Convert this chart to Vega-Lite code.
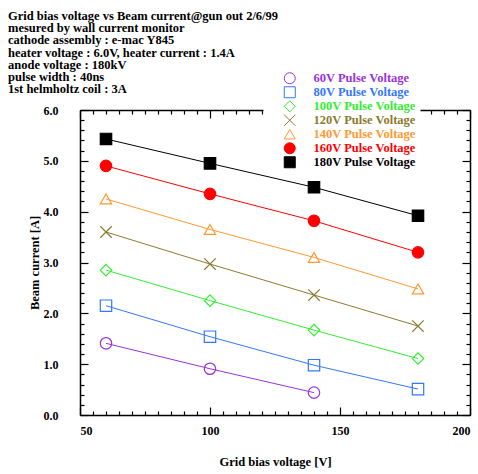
{
  "$schema": "https://vega.github.io/schema/vega-lite/v6.json",
  "autosize": "none",
  "width": 390,
  "height": 305,
  "padding": {"left": 80, "top": 110, "right": 8, "bottom": 59},
  "background": "white",
  "title": {
    "text": ["Grid bias voltage vs Beam current@gun out 2/6/99", "mesured by wall current monitor", "cathode assembly : e-mac Y845", "heater voltage : 6.0V, heater current : 1.4A", "anode voltage : 180kV", "pulse width : 40ns", "1st helmholtz coil : 3A"],
    "anchor": "start",
    "frame": "group",
    "dx": -72,
    "dy": 38,
    "font": "Liberation Serif",
    "fontSize": 12.5,
    "fontWeight": "bold",
    "lineHeight": 12.3,
    "color": "black",
    "offset": 10
  },
  "config": {
    "view": {"stroke": null},
    "axis": {
      "domainColor": "black",
      "domainWidth": 1.5,
      "tickColor": "black",
      "tickWidth": 1.2,
      "labelFont": "Liberation Serif",
      "labelFontWeight": "bold",
      "labelFontSize": 12,
      "labelColor": "black",
      "titleFont": "Liberation Serif",
      "titleFontWeight": "bold",
      "titleFontSize": 12.5,
      "titleColor": "black",
      "grid": false
    }
  },
  "data": {
    "values": [
      {"series": "60V Pulse Voltage", "grid": 60, "current": 1.41},
      {"series": "60V Pulse Voltage", "grid": 100, "current": 0.91},
      {"series": "60V Pulse Voltage", "grid": 140, "current": 0.44},
      {"series": "80V Pulse Voltage", "grid": 60, "current": 2.15},
      {"series": "80V Pulse Voltage", "grid": 100, "current": 1.54},
      {"series": "80V Pulse Voltage", "grid": 140, "current": 0.98},
      {"series": "80V Pulse Voltage", "grid": 180, "current": 0.51},
      {"series": "100V Pulse Voltage", "grid": 60, "current": 2.85},
      {"series": "100V Pulse Voltage", "grid": 100, "current": 2.25},
      {"series": "100V Pulse Voltage", "grid": 140, "current": 1.67},
      {"series": "100V Pulse Voltage", "grid": 180, "current": 1.11},
      {"series": "120V Pulse Voltage", "grid": 60, "current": 3.6},
      {"series": "120V Pulse Voltage", "grid": 100, "current": 2.97},
      {"series": "120V Pulse Voltage", "grid": 140, "current": 2.36},
      {"series": "120V Pulse Voltage", "grid": 180, "current": 1.75},
      {"series": "140V Pulse Voltage", "grid": 60, "current": 4.25},
      {"series": "140V Pulse Voltage", "grid": 100, "current": 3.65},
      {"series": "140V Pulse Voltage", "grid": 140, "current": 3.1},
      {"series": "140V Pulse Voltage", "grid": 180, "current": 2.48},
      {"series": "160V Pulse Voltage", "grid": 60, "current": 4.9},
      {"series": "160V Pulse Voltage", "grid": 100, "current": 4.35},
      {"series": "160V Pulse Voltage", "grid": 140, "current": 3.82},
      {"series": "160V Pulse Voltage", "grid": 180, "current": 3.2},
      {"series": "180V Pulse Voltage", "grid": 60, "current": 5.43},
      {"series": "180V Pulse Voltage", "grid": 100, "current": 4.95},
      {"series": "180V Pulse Voltage", "grid": 140, "current": 4.48},
      {"series": "180V Pulse Voltage", "grid": 180, "current": 3.92}
    ]
  },
  "resolve": {"scale": {"x": "independent", "y": "independent"}},
  "layer": [
    {
      "mark": {"type": "line", "strokeWidth": 1},
      "encoding": {
        "x": {"field": "grid", "type": "quantitative", "scale": {"domain": [50, 200], "nice": false, "zero": false},
          "axis": {"orient": "bottom", "values": [50, 100, 150, 200], "tickSize": -8, "labelPadding": 18, "title": "Grid bias voltage [V]", "titlePadding": 19}},
        "y": {"field": "current", "type": "quantitative", "scale": {"domain": [0, 6], "nice": false, "zero": false},
          "axis": {"orient": "left", "values": [0, 1, 2, 3, 4, 5, 6], "format": ".1f", "tickSize": -8, "labelPadding": 30, "title": "Beam current [A]", "titlePadding": 2}},
        "color": {"field": "series", "type": "nominal",
          "scale": {"domain": ["60V Pulse Voltage", "80V Pulse Voltage", "100V Pulse Voltage", "120V Pulse Voltage", "140V Pulse Voltage", "160V Pulse Voltage", "180V Pulse Voltage"],
            "range": ["#9933dd", "#3377ff", "#33ee33", "#8b7b30", "#ff9933", "#ff0000", "#000000"]},
          "legend": {
            "orient": "none", "legendX": 183.5, "legendY": -42, "title": null, "padding": 4, "fillColor": "white",
            "labelFont": "Liberation Serif", "labelFontWeight": "bold", "labelFontSize": 12.5,
            "symbolSize": 121, "symbolStrokeWidth": 1, "rowPadding": -2, "labelOffset": 17.5, "symbolOffset": 16,
            "encode": {
              "labels": {"update": {"fill": {"scale": "color", "field": "value"}}}
            }
          }
        }
      }
    },
    {
      "mark": {"type": "point", "filled": false, "size": 130, "strokeWidth": 1.2, "opacity": 1},
      "encoding": {
        "x": {"field": "grid", "type": "quantitative", "scale": {"domain": [50, 200], "nice": false, "zero": false},
          "axis": {"orient": "top", "values": [50, 100, 150, 200], "tickSize": -8, "labels": false, "title": null}},
        "y": {"field": "current", "type": "quantitative", "scale": {"domain": [0, 6], "nice": false, "zero": false},
          "axis": {"orient": "right", "values": [0, 1, 2, 3, 4, 5, 6], "tickSize": -8, "labels": false, "title": null}},
        "color": {"field": "series", "type": "nominal",
          "legend": {
            "orient": "none", "legendX": 183.5, "legendY": -42, "title": null, "padding": 4, "fillColor": "white",
            "labelFont": "Liberation Serif", "labelFontWeight": "bold", "labelFontSize": 12.5,
            "symbolSize": 121, "symbolStrokeWidth": 1, "rowPadding": -2, "labelOffset": 17.5, "symbolOffset": 16,
            "encode": {
              "labels": {"update": {"fill": {"scale": "color", "field": "value"}}}
            }
          }},
        "shape": {"field": "series", "type": "nominal",
          "scale": {"domain": ["60V Pulse Voltage", "80V Pulse Voltage", "100V Pulse Voltage", "120V Pulse Voltage", "140V Pulse Voltage", "160V Pulse Voltage", "180V Pulse Voltage"],
            "range": ["circle", "square", "diamond", "M-1,-1L1,1M-1,1L1,-1", "triangle-up", "circle", "square"]},
          "legend": {
            "orient": "none", "legendX": 183.5, "legendY": -42, "title": null, "padding": 4, "fillColor": "white",
            "labelFont": "Liberation Serif", "labelFontWeight": "bold", "labelFontSize": 12.5,
            "symbolSize": 121, "symbolStrokeWidth": 1, "rowPadding": -2, "labelOffset": 17.5, "symbolOffset": 16,
            "encode": {
              "labels": {"update": {"fill": {"scale": "color", "field": "value"}}}
            }
          }},
        "fill": {"field": "series", "type": "nominal",
          "scale": {"domain": ["60V Pulse Voltage", "80V Pulse Voltage", "100V Pulse Voltage", "120V Pulse Voltage", "140V Pulse Voltage", "160V Pulse Voltage", "180V Pulse Voltage"],
            "range": ["transparent", "transparent", "transparent", "transparent", "transparent", "#ff0000", "#000000"]},
          "legend": {
            "orient": "none", "legendX": 183.5, "legendY": -42, "title": null, "padding": 4, "fillColor": "white",
            "labelFont": "Liberation Serif", "labelFontWeight": "bold", "labelFontSize": 12.5,
            "symbolSize": 121, "symbolStrokeWidth": 1, "rowPadding": -2, "labelOffset": 17.5, "symbolOffset": 16,
            "encode": {
              "labels": {"update": {"fill": {"scale": "color", "field": "value"}}}
            }
          }}
      }
    },
    {
      "mark": {"type": "point", "opacity": 0},
      "encoding": {
        "x": {"field": "grid", "type": "quantitative", "scale": {"domain": [50, 200], "nice": false, "zero": false},
          "axis": {"orient": "bottom", "values": [55, 60, 65, 70, 75, 80, 85, 90, 95, 105, 110, 115, 120, 125, 130, 135, 140, 145, 155, 160, 165, 170, 175, 180, 185, 190, 195], "tickSize": -4, "labels": false, "domain": false, "title": null}},
        "y": {"field": "current", "type": "quantitative", "scale": {"domain": [0, 6], "nice": false, "zero": false},
          "axis": {"orient": "left", "values": [0.2, 0.4, 0.6, 0.8, 1.2, 1.4, 1.6, 1.8, 2.2, 2.4, 2.6, 2.8, 3.2, 3.4, 3.6, 3.8, 4.2, 4.4, 4.6, 4.8, 5.2, 5.4, 5.6, 5.8], "tickSize": -4, "labels": false, "domain": false, "title": null}}
      }
    },
    {
      "mark": {"type": "point", "opacity": 0},
      "encoding": {
        "x": {"field": "grid", "type": "quantitative", "scale": {"domain": [50, 200], "nice": false, "zero": false},
          "axis": {"orient": "top", "values": [55, 60, 65, 70, 75, 80, 85, 90, 95, 105, 110, 115, 120, 125, 130, 135, 140, 145, 155, 160, 165, 170, 175, 180, 185, 190, 195], "tickSize": -4, "labels": false, "domain": false, "title": null}},
        "y": {"field": "current", "type": "quantitative", "scale": {"domain": [0, 6], "nice": false, "zero": false},
          "axis": {"orient": "right", "values": [0.2, 0.4, 0.6, 0.8, 1.2, 1.4, 1.6, 1.8, 2.2, 2.4, 2.6, 2.8, 3.2, 3.4, 3.6, 3.8, 4.2, 4.4, 4.6, 4.8, 5.2, 5.4, 5.6, 5.8], "tickSize": -4, "labels": false, "domain": false, "title": null}}
      }
    }
  ]
}
